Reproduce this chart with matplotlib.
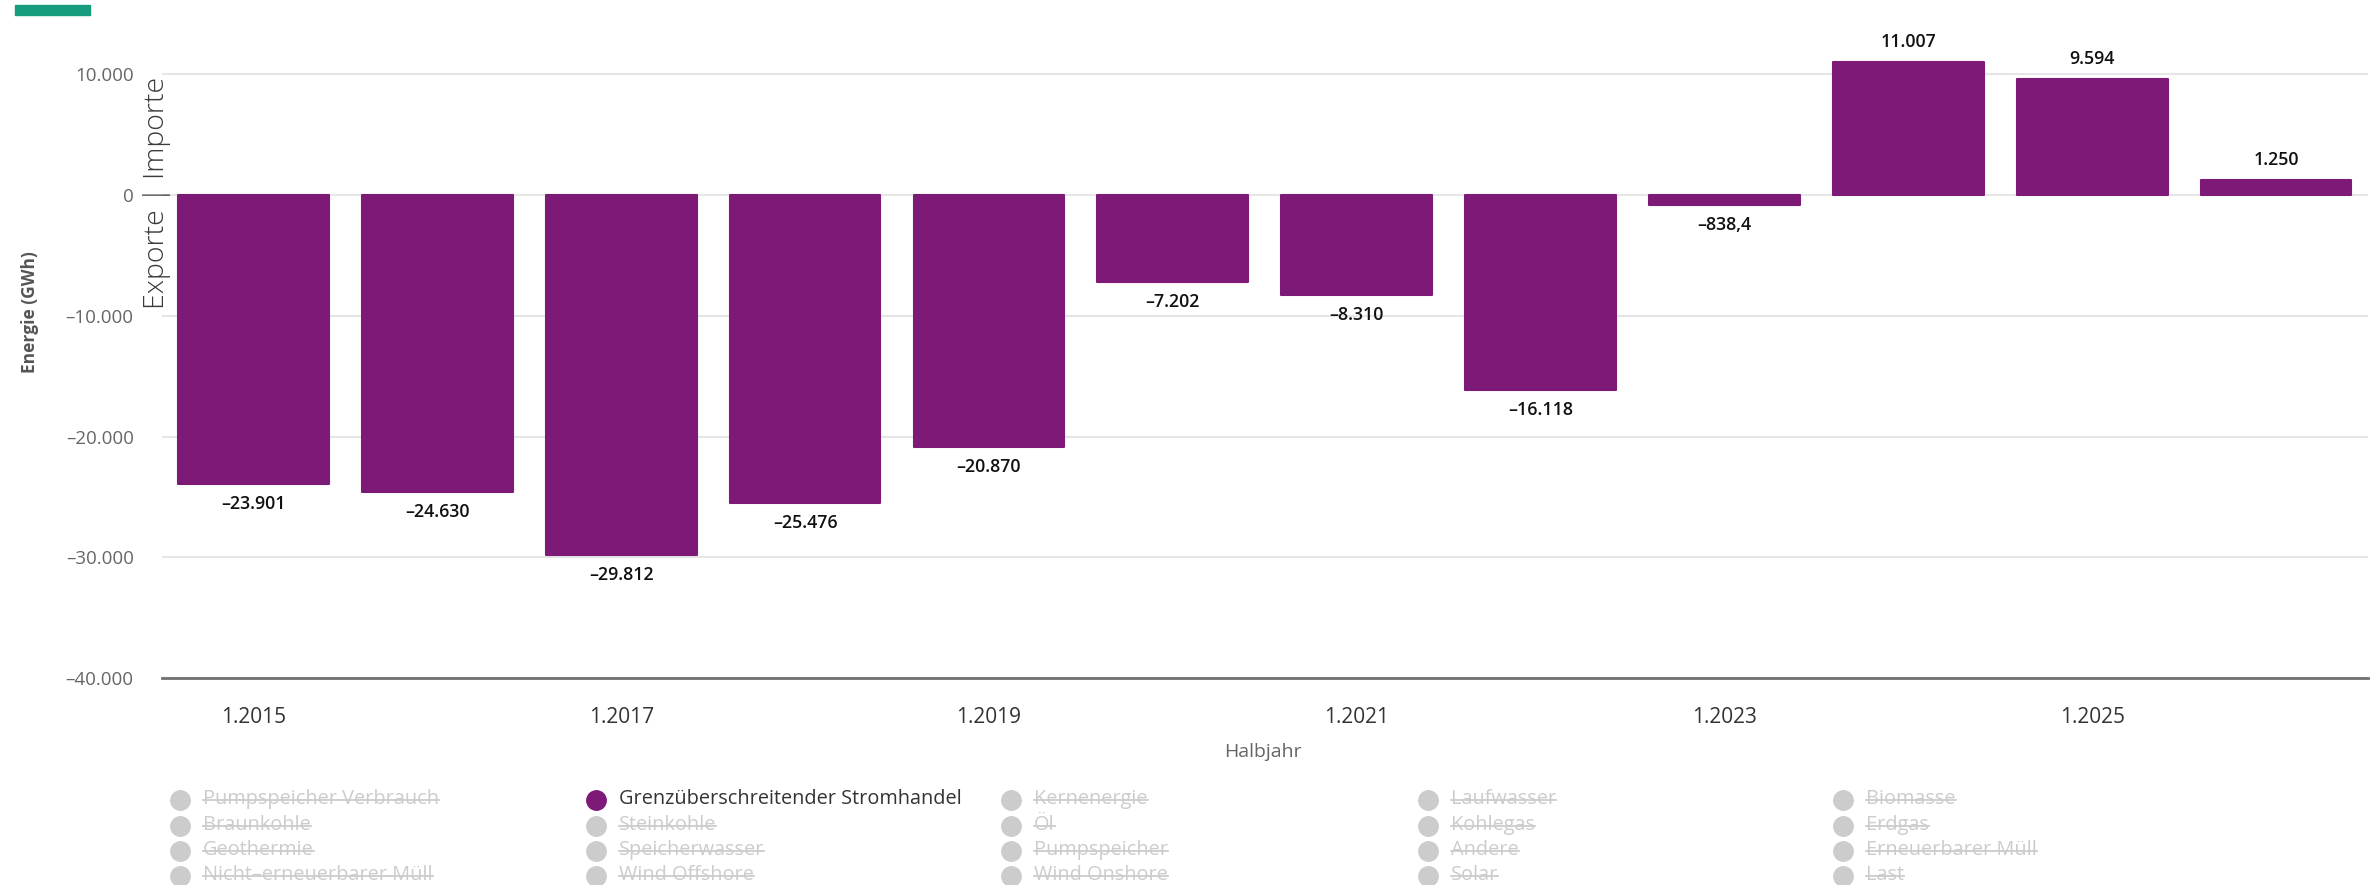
import numpy as np
import matplotlib
matplotlib.use('Agg')
import matplotlib.pyplot as plt
from matplotlib.lines import Line2D
from matplotlib.patches import Rectangle

plt.rcParams['font.family'] = ['Open Sans', 'DejaVu Sans']

# %% data
periods = ['1.2015', '1.2016', '1.2017', '1.2018', '1.2019', '1.2020',
           '1.2021', '1.2022', '1.2023', '1.2024', '1.2025', '1.2026']
energy = [-23901, -24630, -29812, -25476, -20870, -7202,
          -8310, -16118, -838.4, 11007, 9594, 1250]
yticks = [10000, 0, -10000, -20000, -30000, -40000]
legend_cols = [
    ['Pumpspeicher Verbrauch', 'Braunkohle', 'Geothermie', 'Nicht–erneuerbarer Müll'],
    ['Grenzüberschreitender Stromhandel', 'Steinkohle', 'Speicherwasser', 'Wind Offshore'],
    ['Kernenergie', 'Öl', 'Pumpspeicher', 'Wind Onshore'],
    ['Laufwasser', 'Kohlegas', 'Andere', 'Solar'],
    ['Biomasse', 'Erdgas', 'Erneuerbarer Müll', 'Last'],
]
active = 'Grenzüberschreitender Stromhandel'

purple = '#7d1a78'
W, H = 2377, 885


def de_fmt(v):
    if abs(v) < 1000 and v != int(v):
        s = '%.1f' % v
        s = s.replace('.', ',')
    else:
        s = '{:,.0f}'.format(v).replace(',', '.')
    return s.replace('-', '–')


fig = plt.figure(figsize=(W / 100, H / 100), dpi=100, facecolor='w')
ax = fig.add_axes([161.5 / W, 1 - 678 / H, (2368 - 161.5) / W, (678 - 14) / H])

x = np.arange(len(periods))
ax.bar(x, energy, width=0.82, color=purple, edgecolor=purple, linewidth=1.5,
       joinstyle='round', zorder=3)

for xi, v in zip(x, energy):
    off = 20 if v > 0 else -20
    ax.annotate(de_fmt(v), (xi, v), xytext=(0, off), textcoords='offset pixels',
                ha='center', va='center', fontsize=12.8, fontweight='semibold',
                color='#111111')

ax.set_xlim(-0.5, len(periods) - 0.5)
ax.set_ylim(-40000, 15000)
ax.set_yticks(yticks)
ax.set_yticklabels([de_fmt(t) for t in yticks])
ax.set_xticks(x[::2])
ax.set_xticklabels(periods[::2])
ax.tick_params(axis='y', length=0, pad=20, labelsize=13.5, labelcolor='#666666')
ax.tick_params(axis='x', length=0, pad=21, labelsize=15, labelcolor='#333333')
ax.grid(axis='y', color='#e6e6e6', linewidth=1.5, zorder=0)
for s in ['top', 'right', 'left']:
    ax.spines[s].set_visible(False)
ax.spines['bottom'].set_color('#707070')
ax.spines['bottom'].set_linewidth(2)

fig.text(1263 / W, 1 - 752 / H, 'Halbjahr', ha='center', va='center',
         fontsize=14, color='#666666')
fig.text(30 / W, 1 - 312 / H, 'Energie (GWh)', rotation=90, ha='center',
         va='center', fontsize=12.5, fontweight='bold', color='#555555')
fig.text(157 / W, 1 - 193 / H, 'Exporte | Importe', rotation=90, ha='center',
         va='center', fontsize=20.5, fontweight='light', color='#3a3a3a')

# green marker in corner
fig.add_artist(Rectangle((15 / W, 1 - 15 / H), 75 / W, 10 / H,
                         transform=fig.transFigure, color='#179c7d'))

# %% legend
col_x = [180, 596, 1011, 1428, 1843]
row_y = [800, 826, 851, 876]
texts = []
for cx, names in zip(col_x, legend_cols):
    for ry, name in zip(row_y, names):
        on = name == active
        fig.add_artist(Line2D([cx / W], [1 - ry / H], marker='o', markersize=14,
                              color=purple if on else '#cccccc', linestyle='none',
                              transform=fig.transFigure))
        t = fig.text((cx + 23) / W, 1 - (ry - 1) / H, name, ha='left',
                     va='center', fontsize=14.3,
                     color='#333333' if on else '#cccccc')
        if not on:
            texts.append(t)

fig.canvas.draw()
r = fig.canvas.get_renderer()
for t in texts:
    bb = t.get_window_extent(r)
    ym = (bb.y0 + bb.y1) / 2 - 1
    fig.add_artist(Line2D([bb.x0 / W, bb.x1 / W], [ym / H, ym / H],
                          color='#cccccc', linewidth=1.3,
                          transform=fig.transFigure))

fig.savefig('out.png', dpi=100, facecolor='w')
